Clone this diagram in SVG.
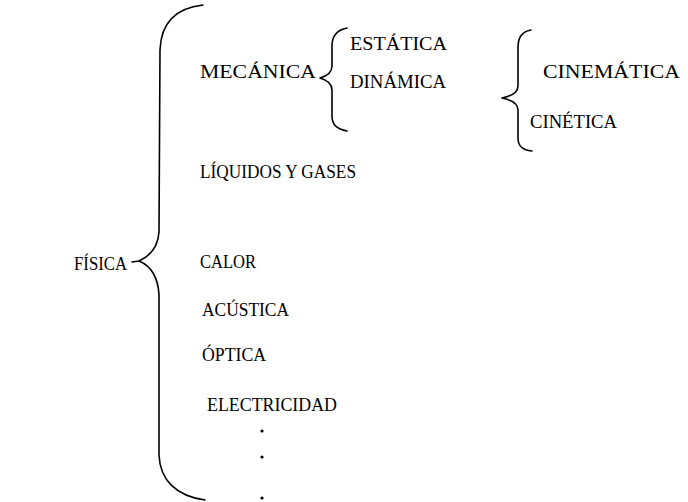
<svg xmlns="http://www.w3.org/2000/svg" width="688" height="502" viewBox="0 0 688 502">
<style>
text{font-family:"Liberation Serif","Times New Roman",serif;font-size:19px;fill:#000}
.br{fill:none;stroke:#000;stroke-width:1.6;stroke-linecap:round;stroke-linejoin:round}
.dot{fill:#000}
</style>
<rect width="688" height="502" fill="#fff"/>
<g id="connectors">
<path class="br" d="M203,5 C176,8 161,22 160,50 L159,232 C158,248 150,256 139,261 L132,262 M139,261 C151,266 158,276 159,295 L159,455 C160,480 176,496 205,500"/>
<path class="br" d="M347,28 C337,30 332,36 332,46 L332,66 C332,72 327,76 320,78 C327,80 332,84 332,90 L332,116 C332,125 337,129 347,131"/>
<path class="br" d="M531,30 C521,32 518,38 518,48 L518,86 C518,92 512,96 502,98 C512,100 518,104 518,110 L518,138 C518,146 522,150 532,151"/>
</g>
<g id="fisica"><text x="74" y="270" textLength="53" lengthAdjust="spacingAndGlyphs">FÍSICA</text></g>
<g id="mecanica"><text x="200" y="78" textLength="116" lengthAdjust="spacingAndGlyphs">MECÁNICA</text></g>
<g id="estatica"><text x="350" y="50" textLength="97" lengthAdjust="spacingAndGlyphs">ESTÁTICA</text></g>
<g id="dinamica"><text x="350" y="88" textLength="96" lengthAdjust="spacingAndGlyphs">DINÁMICA</text></g>
<g id="cinematica"><text x="543" y="78" textLength="137" lengthAdjust="spacingAndGlyphs">CINEMÁTICA</text></g>
<g id="cinetica"><text x="530" y="128" textLength="87" lengthAdjust="spacingAndGlyphs">CINÉTICA</text></g>
<g id="liquidos"><text x="200" y="178" textLength="156" lengthAdjust="spacingAndGlyphs">LÍQUIDOS Y GASES</text></g>
<g id="calor"><text x="200" y="268" textLength="56" lengthAdjust="spacingAndGlyphs">CALOR</text></g>
<g id="acustica"><text x="202" y="316" textLength="87" lengthAdjust="spacingAndGlyphs">ACÚSTICA</text></g>
<g id="optica"><text x="202" y="361" textLength="64" lengthAdjust="spacingAndGlyphs">ÓPTICA</text></g>
<g id="electricidad"><text x="207" y="411" textLength="130" lengthAdjust="spacingAndGlyphs">ELECTRICIDAD</text></g>
<g id="dots">
<circle class="dot" cx="262" cy="431" r="1.6"/>
<circle class="dot" cx="262" cy="457" r="1.6"/>
<circle class="dot" cx="262" cy="498" r="1.6"/>
</g>
</svg>
